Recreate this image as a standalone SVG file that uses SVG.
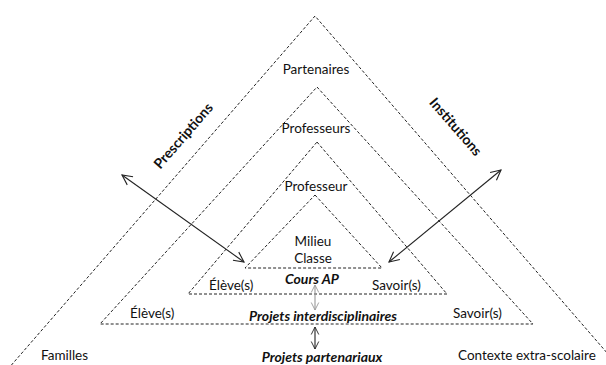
<svg xmlns="http://www.w3.org/2000/svg" width="606" height="365" viewBox="0 0 606 365">
<defs>
<style>
.tri{fill:none;stroke:#222;stroke-width:1;stroke-dasharray:3 2}
.t{font-family:"Lato","Liberation Sans",sans-serif;font-size:13.5px;fill:#111}
.b{font-family:"Lato","Liberation Sans",sans-serif;font-size:14px;font-weight:bold;fill:#111}
.bi{font-family:"Lato","Liberation Sans",sans-serif;font-size:14px;font-weight:bold;font-style:italic;fill:#111}
.arr{fill:none;stroke:#222;stroke-width:1.1;marker-start:url(#h);marker-end:url(#h)}
.arrs{fill:none;stroke:#222;stroke-width:1.1;marker-start:url(#hs);marker-end:url(#hs)}
.arrg{fill:none;stroke:#999;stroke-width:1.1;marker-start:url(#hg);marker-end:url(#hg)}
</style>
<marker id="h" viewBox="0 0 12 12" refX="11" refY="6" markerWidth="12" markerHeight="12" markerUnits="userSpaceOnUse" orient="auto-start-reverse">
<path d="M1,1 L11,6 L1,11" fill="none" stroke="#222" stroke-width="1.1"/>
</marker>
<marker id="hs" viewBox="0 0 12 12" refX="11" refY="6" markerWidth="9" markerHeight="10" markerUnits="userSpaceOnUse" orient="auto-start-reverse">
<path d="M1,1 L11,6 L1,11" fill="none" stroke="#222" stroke-width="1.2"/>
</marker>
<marker id="hg" viewBox="0 0 12 12" refX="11" refY="6" markerWidth="9" markerHeight="10" markerUnits="userSpaceOnUse" orient="auto-start-reverse">
<path d="M1,1 L11,6 L1,11" fill="none" stroke="#999" stroke-width="1.2"/>
</marker>
</defs>
<rect width="606" height="365" fill="#fff"/>
<g id="outer">
<polyline class="tri" points="8,369 315,16 621,369"/>
<text class="t" x="316" y="74" text-anchor="middle">Partenaires</text>
<text class="t" x="41" y="360">Familles</text>
<text class="t" x="458" y="360">Contexte extra-scolaire</text>
<text class="bi" x="322" y="362" text-anchor="middle">Projets partenariaux</text>
</g>
<g id="second">
<polygon class="tri" points="317,87 533,324 100,324"/>
<text class="t" x="316" y="133" text-anchor="middle">Professeurs</text>
<text class="t" x="130" y="318">Élève(s)</text>
<text class="t" x="453" y="318">Savoir(s)</text>
<text class="bi" x="323" y="321" text-anchor="middle">Projets interdisciplinaires</text>
</g>
<g id="third">
<polygon class="tri" points="317,142 447,294 188,294"/>
<text class="t" x="316" y="191" text-anchor="middle">Professeur</text>
<text class="t" x="209" y="290">Élève(s)</text>
<text class="t" x="372" y="290">Savoir(s)</text>
<text class="bi" x="312" y="284" text-anchor="middle">Cours AP</text>
</g>
<g id="inner">
<polygon class="tri" points="315,195 382,268 245,268"/>
<text class="t" x="313" y="246" text-anchor="middle">Milieu</text>
<text class="t" x="313" y="263" text-anchor="middle">Classe</text>
</g>
<g id="prescriptions">
<text class="b" x="0" y="0" text-anchor="middle" transform="translate(187,139) rotate(-49)">Prescriptions</text>
</g>
<g id="institutions">
<text class="b" x="0" y="0" text-anchor="middle" transform="translate(452,130) rotate(49)">Institutions</text>
</g>
<g id="connectors">
<line class="arr" x1="122" y1="175" x2="244" y2="262"/>
<line class="arr" x1="501" y1="170" x2="389" y2="262"/>
<line class="arrg" x1="315" y1="285" x2="315" y2="310"/>
<line class="arrs" x1="315" y1="327" x2="315" y2="349"/>
</g>
</svg>
